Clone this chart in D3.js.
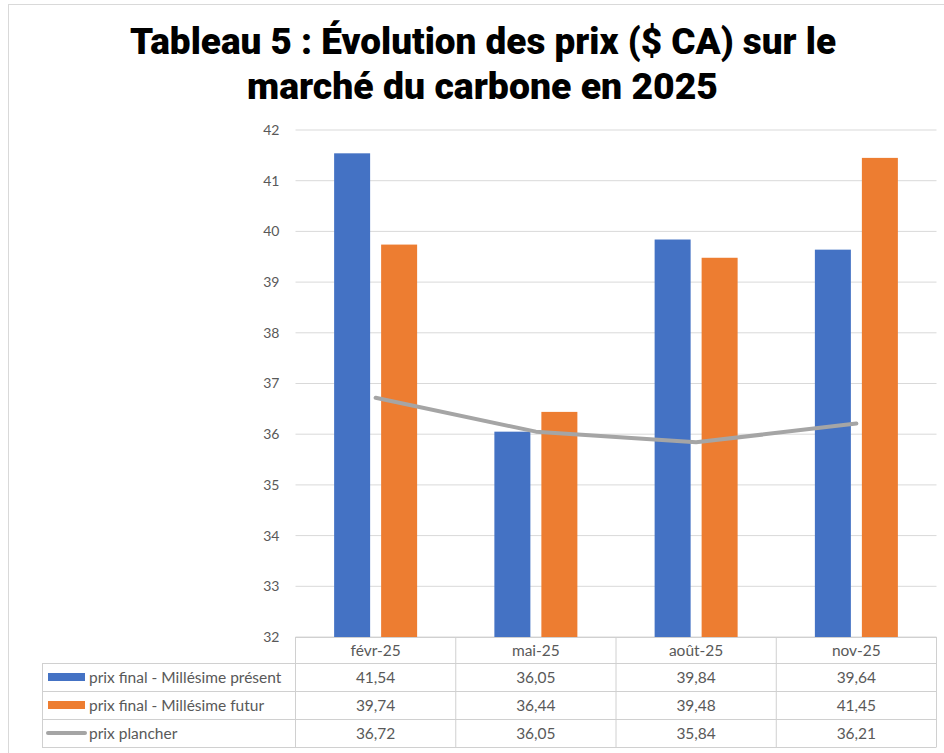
<!DOCTYPE html>
<html><head><meta charset="utf-8">
<script src="https://cdn.jsdelivr.net/npm/d3@7"></script>
<style>body{margin:0;background:#fff;}svg{display:block;}</style>
</head><body>
<svg id="c" width="944" height="753"></svg>
<script>
const categories = ["févr-25", "mai-25", "août-25", "nov-25"];
const seriesNames = ["prix final - Millésime présent", "prix final - Millésime futur", "prix plancher"];
const present = [41.54, 36.05, 39.84, 39.64];
const futur = [39.74, 36.44, 39.48, 41.45];
const plancher = [36.72, 36.05, 35.84, 36.21];
const yTicks = [32, 33, 34, 35, 36, 37, 38, 39, 40, 41, 42];
const colors = ["#4472C4", "#ED7D31", "#A5A5A5"];
const fmt = v => d3.format(".2f")(v).replace(".", ",");

const svg = d3.select("#c");
const font = "Lato, 'Open Sans', sans-serif";

// outer frame
svg.append("rect").attr("x", 8.5).attr("y", 4.5).attr("width", 960).attr("height", 800)
  .attr("fill", "none").attr("stroke", "#d9d9d9").attr("stroke-width", 1);

// title
const title = svg.append("g").attr("font-family", "Roboto, Inter, sans-serif").attr("font-weight", 900)
  .attr("font-size", 36).attr("fill", "#000").attr("text-anchor", "middle");
title.append("text").attr("x", 483).attr("y", 54).attr("textLength", 706).attr("lengthAdjust", "spacingAndGlyphs")
  .text("Tableau 5 : Évolution des prix ($ CA) sur le");
title.append("text").attr("x", 482.5).attr("y", 99).attr("textLength", 471).attr("lengthAdjust", "spacingAndGlyphs")
  .text("marché du carbone en 2025");

const x0 = 295.5, x1 = 936.5, yTop = 130, yBot = 637;
const x = d3.scaleBand().domain(categories).range([x0, x1]).padding(0);
const y = d3.scaleLinear().domain([32, 42]).range([yBot, yTop]);
const xs = d3.scaleBand().domain([0, 1]).range([-41.5, 41.5]).paddingInner(11 / 47).paddingOuter(0);

// gridlines
svg.append("g").selectAll("line").data(yTicks).join("line")
  .attr("x1", x0).attr("x2", x1).attr("y1", d => y(d)).attr("y2", d => y(d))
  .attr("stroke", "#d9d9d9").attr("stroke-width", 1);

// y axis
const yAxis = svg.append("g").attr("transform", `translate(${x0 - 16},0)`)
  .call(d3.axisLeft(y).tickValues(yTicks).tickSize(0).tickPadding(0).tickFormat(d => d));
yAxis.select(".domain").remove();
yAxis.selectAll("text").attr("font-family", font).attr("font-size", 14).attr("fill", "#595959");

// bars
const bars = [present, futur];
bars.forEach((s, i) => {
  svg.append("g").selectAll("rect").data(s).join("rect")
    .attr("x", (d, j) => x(categories[j]) + x.bandwidth() / 2 + xs(i))
    .attr("width", xs.bandwidth())
    .attr("y", d => y(d)).attr("height", d => yBot - y(d))
    .attr("fill", colors[i]);
});

// line
const line = d3.line().x((d, j) => x(categories[j]) + x.bandwidth() / 2).y(d => y(d));
svg.append("path").datum(plancher).attr("d", line).attr("fill", "none")
  .attr("stroke", colors[2]).attr("stroke-width", 4).attr("stroke-linecap", "round").attr("stroke-linejoin", "round");

// data table
const tb = svg.append("g");
const rowY = [637, 663, 691, 719, 747];
const legX = 42;
const gridC = "#d0d0d0";
tb.append("line").attr("x1", x0).attr("x2", x1).attr("y1", rowY[0] + 0.5).attr("y2", rowY[0] + 0.5).attr("stroke", gridC);
for (let r = 1; r < rowY.length; r++) {
  tb.append("line").attr("x1", legX).attr("x2", x1).attr("y1", rowY[r] + 0.5).attr("y2", rowY[r] + 0.5).attr("stroke", gridC);
}
const vxs = categories.map(c => x(c)).concat([x1]);
vxs.forEach(vx => tb.append("line").attr("x1", vx).attr("x2", vx).attr("y1", rowY[0]).attr("y2", rowY[4]).attr("stroke", gridC));
tb.append("line").attr("x1", legX + 0.5).attr("x2", legX + 0.5).attr("y1", rowY[1]).attr("y2", rowY[4]).attr("stroke", gridC);

const tfs = 15.5;
tb.append("g").selectAll("text").data(categories).join("text")
  .attr("x", d => x(d) + x.bandwidth() / 2).attr("y", (rowY[0] + rowY[1]) / 2 + 5.5)
  .attr("text-anchor", "middle").attr("font-family", font).attr("font-size", tfs).attr("fill", "#595959").text(d => d);

const rows = [present, futur, plancher];
rows.forEach((s, i) => {
  const cy = (rowY[i + 1] + rowY[i + 2]) / 2;
  if (i < 2) {
    tb.append("rect").attr("x", 48).attr("y", cy - 4).attr("width", 37).attr("height", 8).attr("fill", colors[i]);
  } else {
    tb.append("line").attr("x1", 48).attr("x2", 85).attr("y1", cy).attr("y2", cy).attr("stroke", colors[i]).attr("stroke-width", 4).attr("stroke-linecap", "round");
  }
  tb.append("text").attr("x", 89).attr("y", cy + 5.5).attr("font-family", font).attr("font-size", tfs).attr("fill", "#595959").text(seriesNames[i]);
  tb.append("g").selectAll("text").data(s).join("text")
    .attr("x", (d, j) => x(categories[j]) + x.bandwidth() / 2).attr("y", cy + 5.5)
    .attr("text-anchor", "middle").attr("font-family", font).attr("font-size", tfs).attr("fill", "#595959").text(d => fmt(d));
});
</script>
</body></html>
